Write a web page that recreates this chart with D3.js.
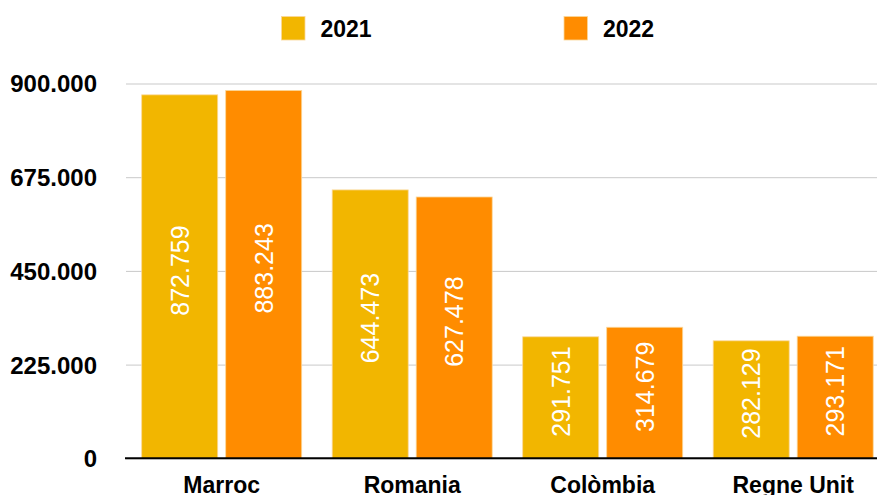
<!DOCTYPE html>
<html>
<head>
<meta charset="utf-8">
<script src="https://cdn.jsdelivr.net/npm/d3@7"></script>
<style>
  body { margin: 0; background: #fff; }
  text { font-family: "Liberation Sans", Arial, Helvetica, sans-serif; }
</style>
</head>
<body>
<div id="plot"></div>
<script>
// data
const categories = ["Marroc", "Romania", "Colòmbia", "Regne Unit"];
const years = ["2021", "2022"];
const values2021 = [872759, 644473, 291751, 282129];
const values2022 = [883243, 627478, 314679, 293171];
const yTicks = [0, 225000, 450000, 675000, 900000];
const colors = ["#f2b600", "#ff8c00"];

const w = 877;
const h = 495;

const locale = d3.formatLocale({decimal: ",", thousands: ".", grouping: [3], currency: ["", "€"]});
const fmt = locale.format(",");

const svg = d3.select("div#plot")
    .append("svg")
    .attr("width", w)
    .attr("height", h);

const xScale = d3.scaleBand()
    .domain(categories)
    .range([126.7, 888.7]);

const xSub = d3.scaleBand()
    .domain(years)
    .range([15, 175])
    .paddingInner(0.0952);

const yScale = d3.scaleLinear()
    .domain([0, 900000])
    .range([458.3, 83.5]);

// gridlines + tick labels
const yAxis = d3.axisLeft(yScale)
    .tickValues(yTicks)
    .tickSize(-(w - 126))
    .tickFormat(d => fmt(d));

svg.append("g")
    .attr("class", "yAxis")
    .attr("transform", "translate(126, 0)")
    .call(yAxis)
    .call(g => g.select(".domain").remove())
    .call(g => g.selectAll(".tick line").attr("stroke", "#c9c9c9").attr("stroke-width", 1))
    .call(g => g.selectAll(".tick text")
        .attr("x", -29)
        .attr("dy", "0.35em")
        .attr("fill", "#000")
        .attr("font-size", 24)
        .attr("font-weight", "bold")
        .style("font-family", "'Liberation Sans', Arial, sans-serif"));

const series = years.map((y, i) => ({year: y, values: i === 0 ? values2021 : values2022}));

const rows = [];
series.forEach((s, si) => {
  s.values.forEach((v, ci) => rows.push({cat: categories[ci], year: s.year, value: v, color: colors[si]}));
});

const bars = svg.append("g").attr("id", "bars");

bars.selectAll("rect")
    .data(rows)
  .enter().append("rect")
    .attr("x", d => xScale(d.cat) + xSub(d.year))
    .attr("y", d => yScale(d.value))
    .attr("width", xSub.bandwidth())
    .attr("height", d => yScale(0) - yScale(d.value))
    .attr("fill", d => d.color)
    .attr("stroke", "#fbd89a")
    .attr("stroke-width", 0.8);

bars.selectAll("text")
    .data(rows)
  .enter().append("text")
    .attr("transform", d => {
      const cx = xScale(d.cat) + xSub(d.year) + xSub.bandwidth() / 2;
      const cy = (yScale(d.value) + yScale(0)) / 2 - 6;
      return `translate(${cx}, ${cy}) rotate(-90)`;
    })
    .attr("text-anchor", "middle")
    .attr("dominant-baseline", "central")
    .attr("fill", "#fff")
    .attr("font-size", 25)
    .text(d => fmt(d.value));

// baseline
svg.append("line")
    .attr("x1", 125)
    .attr("x2", w)
    .attr("y1", yScale(0))
    .attr("y2", yScale(0))
    .attr("stroke", "#000")
    .attr("stroke-width", 2);

// category labels (cut at the bottom edge, as in the source)
svg.append("g")
    .selectAll("text")
    .data(categories)
  .enter().append("text")
    .attr("x", d => xScale(d) + 95)
    .attr("y", 493)
    .attr("text-anchor", "middle")
    .attr("font-size", 23)
    .attr("font-weight", "bold")
    .attr("fill", "#000")
    .text(d => d);

// legend
const legendX = [281.5, 564];
const legend = svg.append("g").attr("class", "legend");
years.forEach((y, i) => {
  legend.append("rect")
      .attr("x", legendX[i])
      .attr("y", 16.5)
      .attr("width", 23.5)
      .attr("height", 23.5)
      .attr("fill", colors[i])
      .attr("stroke", "#fbd89a")
      .attr("stroke-width", 0.8);
  legend.append("text")
      .attr("x", legendX[i] + 39)
      .attr("y", 28.5)
      .attr("dy", "0.35em")
      .attr("font-size", 23)
      .attr("font-weight", "bold")
      .attr("fill", "#000")
      .text(y);
});
</script>
</body>
</html>
